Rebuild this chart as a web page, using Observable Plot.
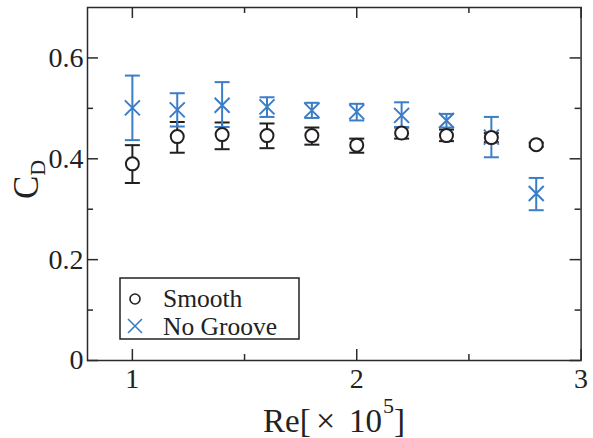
<!DOCTYPE html>
<html><head><meta charset="utf-8">
<script src="https://cdn.jsdelivr.net/npm/d3@7"></script>
<script src="https://cdn.jsdelivr.net/npm/@observablehq/plot@0.6"></script>
<style>body{margin:0;background:#fff}</style>
</head><body><div id="chart"></div>
<script>
// Data (Re in units of 1e5)
const re = [1.0, 1.2, 1.4, 1.6, 1.8, 2.0, 2.2, 2.4, 2.6, 2.8];
const smooth   = [0.390, 0.444, 0.448, 0.446, 0.446, 0.427, 0.451, 0.446, 0.442, 0.428];
const smoothLo = [0.352, 0.412, 0.419, 0.421, 0.428, 0.412, 0.440, 0.435, 0.433, 0.424];
const smoothHi = [0.427, 0.473, 0.472, 0.470, 0.462, 0.440, 0.462, 0.458, 0.451, 0.432];
const groove   = [0.501, 0.497, 0.506, 0.503, 0.496, 0.493, 0.486, 0.476, 0.443, 0.331];
const grooveLo = [0.437, 0.464, 0.463, 0.483, 0.481, 0.476, 0.463, 0.462, 0.403, 0.298];
const grooveHi = [0.565, 0.530, 0.552, 0.522, 0.511, 0.509, 0.512, 0.489, 0.483, 0.362];
const xMajor = [1, 2, 3];
const xMinor = [1.5, 2.5];
const yMajor = [0, 0.2, 0.4, 0.6];
const yMinor = [0.1, 0.3, 0.5];
const seriesNames = ["Smooth", "No Groove"];

const sData = re.map((x, i) => ({x, y: smooth[i], lo: smoothLo[i], hi: smoothHi[i]}));
const gData = re.map((x, i) => ({x, y: groove[i], lo: grooveLo[i], hi: grooveHi[i]}));

const BLUE = "#3b7dc6", BLACK = "#231f20", AX = "#2a2a2a";
const W = 593, H = 438, mL = 87, mR = 12.4, mT = 7, mB = 78;
const plotW = W - mL - mR, plotH = H - mT - mB;
const MAJ = 11, MIN = 6;
const SERIF = "Liberation Serif, Times New Roman, serif";

const cap = {draw(ctx, size) {const r = Math.sqrt(size / Math.PI); ctx.moveTo(-r, 0); ctx.lineTo(r, 0);}};
const cross = {draw(ctx, size) {const r = Math.sqrt(size / Math.PI); ctx.moveTo(-r, -r); ctx.lineTo(r, r); ctx.moveTo(-r, r); ctx.lineTo(r, -r);}};

const fmt = d => d === 0 ? "0" : d.toFixed(1);

const chart = Plot.plot({
  width: W, height: H,
  marginLeft: mL, marginRight: mR, marginTop: mT, marginBottom: mB,
  style: {fontFamily: SERIF, fontSize: "28px", color: "#222", background: "#fff"},
  x: {domain: [0.8, 3], axis: null},
  y: {domain: [0, 0.7], axis: null},
  marks: [
    // inward ticks
    Plot.tickY(yMajor, {y: d => d, insetRight: plotW - MAJ, stroke: AX, strokeWidth: 1.5}),
    Plot.tickY(yMinor, {y: d => d, insetRight: plotW - MIN, stroke: AX, strokeWidth: 1.5}),
    Plot.tickY(yMajor, {y: d => d, insetLeft: plotW - MAJ, stroke: AX, strokeWidth: 1.5}),
    Plot.tickY(yMinor, {y: d => d, insetLeft: plotW - MIN, stroke: AX, strokeWidth: 1.5}),
    Plot.tickX(xMajor, {x: d => d, insetTop: plotH - MAJ, stroke: AX, strokeWidth: 1.5}),
    Plot.tickX(xMinor, {x: d => d, insetTop: plotH - MIN, stroke: AX, strokeWidth: 1.5}),
    Plot.tickX(xMajor, {x: d => d, insetBottom: plotH - MAJ, stroke: AX, strokeWidth: 1.5}),
    Plot.tickX(xMinor, {x: d => d, insetBottom: plotH - MIN, stroke: AX, strokeWidth: 1.5}),
    Plot.axisY(yMajor, {tickSize: 0, tickPadding: 4, tickFormat: fmt, label: null, fill: "#222", fontFamily: SERIF}),
    Plot.axisX(xMajor, {tickSize: 0, tickPadding: 8, tickFormat: d => String(d), label: null, fill: "#222", fontFamily: SERIF}),
    // error bars
    Plot.ruleX(sData, {x: "x", y1: "lo", y2: "hi", stroke: BLACK, strokeWidth: 2}),
    Plot.dot(sData, {x: "x", y: "lo", symbol: cap, r: 7.5, stroke: BLACK, strokeWidth: 2}),
    Plot.dot(sData, {x: "x", y: "hi", symbol: cap, r: 7.5, stroke: BLACK, strokeWidth: 2}),
    Plot.ruleX(gData, {x: "x", y1: "lo", y2: "hi", stroke: BLUE, strokeWidth: 2}),
    Plot.dot(gData, {x: "x", y: "lo", symbol: cap, r: 7.5, stroke: BLUE, strokeWidth: 2}),
    Plot.dot(gData, {x: "x", y: "hi", symbol: cap, r: 7.5, stroke: BLUE, strokeWidth: 2}),
    // markers
    Plot.dot(gData, {x: "x", y: "y", symbol: cross, r: 7.5, stroke: BLUE, strokeWidth: 2}),
    Plot.dot(sData, {x: "x", y: "y", r: 6.5, stroke: BLACK, fill: "#fff", strokeWidth: 2}),
    Plot.frame({stroke: AX, strokeWidth: 1.5})
  ]
});
document.getElementById("chart").appendChild(chart);

const svg = d3.select(chart);
// Y title C_D
const yt = svg.append("text").attr("transform", "translate(38,199) rotate(-90)")
  .attr("font-family", SERIF).attr("fill", "#222").attr("text-anchor", "start");
yt.append("tspan").attr("font-size", 35).text("C");
yt.append("tspan").attr("font-size", 22).attr("dy", 7).text("D");
// X title Re[×10^5]
const xt = svg.append("text").attr("font-family", SERIF).attr("fill", "#222")
  .attr("text-anchor", "start").attr("y", 432);
xt.append("tspan").attr("x", 263).attr("font-size", 33).text("Re[");
xt.append("tspan").attr("x", 316).attr("font-size", 34).text("×");
xt.append("tspan").attr("x", 349).attr("font-size", 33).text("10");
xt.append("tspan").attr("x", 383).attr("y", 413).attr("font-size", 22).text("5");
xt.append("tspan").attr("x", 394).attr("y", 432).attr("font-size", 33).text("]");
// Legend
const lg = svg.append("g");
lg.append("rect").attr("x", 120).attr("y", 278).attr("width", 179).attr("height", 61)
  .attr("fill", "#fff").attr("stroke", "#222").attr("stroke-width", 1.5);
lg.append("circle").attr("cx", 135).attr("cy", 299).attr("r", 5).attr("fill", "none")
  .attr("stroke", BLACK).attr("stroke-width", 1.6);
lg.append("path").attr("d", "M128,319L142,333M128,333L142,319").attr("stroke", BLUE).attr("stroke-width", 1.6).attr("fill", "none");
lg.append("text").attr("x", 163).attr("y", 307).attr("text-anchor", "start").attr("font-family", SERIF).attr("font-size", 25.5).attr("fill", "#222").text(seriesNames[0]);
lg.append("text").attr("x", 163).attr("y", 335).attr("text-anchor", "start").attr("font-family", SERIF).attr("font-size", 25.5).attr("fill", "#222").text(seriesNames[1]);
</script>
</body></html>
